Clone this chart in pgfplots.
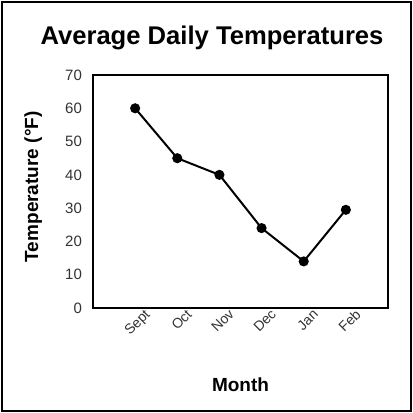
\documentclass[border=0pt]{standalone}
\usepackage{fontspec}
\setmainfont{Liberation Sans}
\usepackage{pgfplots}
\pgfplotsset{compat=1.18}
\begin{document}
\begin{tikzpicture}
\useasboundingbox (0,0) rectangle (206.5pt,206.5pt);
\draw[line width=1pt] (1.2pt,1.2pt) rectangle (205.3pt,205.3pt);
\node[font=\bfseries\fontsize{12.8}{15}\selectfont] at (106pt,187.5pt) {Average Daily Temperatures};
\begin{axis}[
  at={(46.5pt,52.5pt)}, anchor=south west,
  scale only axis, width=147.5pt, height=116.5pt,
  xmin=-1, xmax=6, ymin=0, ymax=70,
  xtick={0,1,2,3,4,5},
  xticklabels={Sept,Oct,Nov,Dec,Jan,Feb},
  ytick={0,10,20,30,40,50,60,70},
  major tick length=0pt,
  axis line style={line width=0.8pt},
  /pgf/number format/assume math mode=true,
  tick label style={font=\fontsize{7.5}{9}\selectfont, text=black!80},
  xticklabel style={rotate=45, anchor=north east, inner sep=0pt, xshift=3pt, yshift=-3pt, font=\fontsize{7}{8}\selectfont},
  yticklabel style={xshift=-2pt},
  xlabel={Month},
  ylabel={Temperature (°F)},
  label style={font=\bfseries\fontsize{9.5}{11}\selectfont},
  xlabel style={at={(axis description cs:0.5,-0.33)}, anchor=center},
  ylabel style={at={(axis description cs:-0.203,0.52)}, anchor=center, rotate=0},
]
\addplot[black, line width=1pt, mark=*, mark size=2pt] coordinates {
  (0,60) (1,45) (2,40) (3,24) (4,14) (5,29.5)
};
\end{axis}
\end{tikzpicture}
\end{document}
